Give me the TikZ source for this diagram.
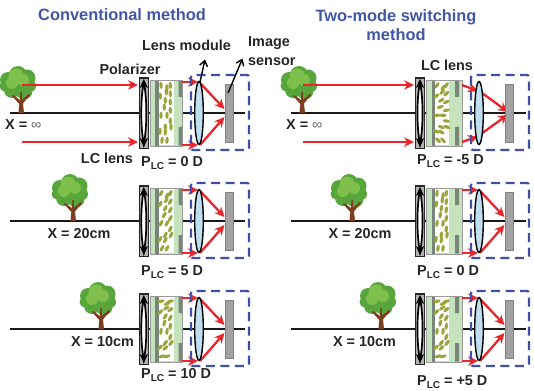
\documentclass[tikz,border=0pt]{standalone}
\usepackage{fontspec}
\setmainfont{Liberation Sans}
\usetikzlibrary{arrows.meta}
\definecolor{titleblue}{HTML}{4456A6}
\definecolor{boxblue}{HTML}{3F50A2}
\definecolor{rayred}{HTML}{E9252B}
\definecolor{plategreen}{HTML}{C5E3BC}
\definecolor{darkplate}{HTML}{788578}
\definecolor{molecule}{HTML}{9AA63C}
\definecolor{lensblue}{HTML}{BFDFF1}
\definecolor{sensorgray}{HTML}{A3A3A3}
\definecolor{treelight}{HTML}{7FC04C}
\definecolor{treemid}{HTML}{57A53B}
\definecolor{trunk}{HTML}{7C3F22}
\tikzset{
  x=1pt,y=-1pt,
  titletext/.style={text=titleblue,font=\fontsize{16.4}{19.5}\selectfont\bfseries,align=center,inner sep=0pt},
  label/.style={text=black!85,font=\fontsize{14.4}{18.5}\selectfont\bfseries,align=left,inner sep=0pt},
  axis/.style={line width=2pt,black!90},
  ray/.style={line width=2.3pt,rayred,-{Stealth[length=10pt,width=9.5pt]}},
  pointer/.style={line width=1.4pt,black,-{Straight Barb[length=5.5pt,width=8pt]}},
  module box/.style={line width=2.2pt,boxblue,dash pattern=on 9pt off 5.5pt,rounded corners=2pt},
}
\newcommand{\plc}[1]{P\lower3pt\hbox{\fontsize{10}{10}\selectfont LC}\ = #1}

% Tree with its trunk foot at the given point
\newcommand{\tree}[2]{%
  \begin{scope}[shift={(#1,#2)}]
    \fill[treemid] (-3,-38) circle[radius=9] (-13,-33) circle[radius=8]
      (6,-35) circle[radius=8.5] (-16,-27) circle[radius=5.5] (9,-27) circle[radius=6]
      (-9,-23) circle[radius=8] (3,-22) circle[radius=8.5] (-3,-28) circle[radius=10];
    \fill[treelight] (-5,-37) circle[radius=7.5] (-9,-30) circle[radius=6] (2,-33) circle[radius=6];
    \fill[trunk] (-2.6,0) -- (-1.7,-9) -- (-9,-17) -- (-8,-18) -- (-1,-13) -- (-0.5,-21)
      -- (0.8,-21) -- (1,-13.5) -- (8,-19) -- (9,-18) -- (2,-9.5) -- (3,0) -- cycle;
  \end{scope}}

% Polarizer: frame, bowed element and double arrow tips
\newcommand{\polarizer}[2]{%
  \begin{scope}[shift={(#1,#2)}]
    \draw[line width=1.2pt,black!85,fill=black!30] (-4.6,-35) rectangle (4.6,35.5);
    \draw[line width=1.7pt,black,fill=white] (0,-31) .. controls (3.4,-14) and (3.4,14) .. (0,31)
      .. controls (-3.4,14) and (-3.4,-14) .. (0,-31);
    \fill[black] (0,-34) -- (4.2,-25) -- (0,-27.5) -- (-4.2,-25) -- cycle;
    \fill[black] (0,34) -- (4.2,25) -- (0,27.5) -- (-4.2,25) -- cycle;
  \end{scope}}

% Liquid-crystal cell: #1 row axis, #2..#7 plate edges, #8 end of cell, #9 molecule tilt
\newcommand{\lccell}[9]{%
  \fill[plategreen] (#2,#1-33) rectangle (#8,#1+33);
  \fill[white] (#4,#1-32) rectangle (#5,#1+32);
  \fill[darkplate] (#3,#1-32.5) rectangle (#4,#1+32.5);
  \fill[darkplate] (#6,#1-32.5) rectangle (#7,#1-16) (#6,#1+14) rectangle (#7,#1+32.5);
  \draw[line width=0.9pt,black!40] (#2,#1-33) rectangle (#8,#1+33);
  \pgfmathsetmacro{\cellmid}{(#4+#5)/2}
  \foreach \rx/\ry in {-5/-27.7,1/-25.3,4.3/-27.7,0.3/-21,4.3/-19.3,-5.7/-17,-0.7/-12.7,4.3/-11,
      -1.7/-6,4.3/-2.7,-5/2.3,1/2.3,4.3/8,-0.7/14,5/14,-6/18.3,-0.7/19,-4/27.3,1/27.3}{
    \pgfmathsetmacro{\ang}{#9}
    \fill[molecule,shift={(\cellmid+\rx,#1+\ry)},rotate=\ang] (0,0) ellipse[x radius=3.6pt,y radius=1.7pt];
  }}

% Lens module: axis ends, lens, image sensor and dashed housing
\newcommand{\axisline}[3]{\draw[axis] (#1,#3) -- (#2,#3);}
\newcommand{\lensmodule}[2]{%
  \begin{scope}[shift={(#1,#2)}]
    \fill[sensorgray] (26,-29) rectangle (34,29);
    \draw[line width=0.5pt,black!50] (26,-29) rectangle (34,29);
    \draw[line width=1.4pt,black,fill=lensblue] (0,0) ellipse[x radius=4.3pt,y radius=31.5pt];
    \draw[module box] (-8,-38) rectangle (50,37);
  \end{scope}}
% Rays between the cell and the sensor, focused behind the lens
\newcommand{\focusrays}[3]{%
  \draw[ray] (#1,#3-31) -- (#2-1,#3-31);
  \draw[ray] (#1,#3+32) -- (#2-1,#3+32);
  \draw[ray] (#2+1,#3-30) -- (#2+25.5,#3-4);
  \draw[ray] (#2+1,#3+32) -- (#2+25.5,#3+4);}

\begin{document}
\begin{tikzpicture}
\useasboundingbox (0,0) rectangle (534,390);
\fill[white] (0,0) rectangle (534,390);

% ---------- conventional method ----------
\axisline{10}{245}{113}\axisline{10}{245}{221}\axisline{10}{245}{329}
\tree{21}{113}\tree{73}{221}\tree{101}{329}
\foreach \row in {113,221,329}{\polarizer{143.8}{\row}}
\lccell{113}{150}{155}{158.5}{173.5}{178.5}{182}{182}{90-2*\ry/10}
\lccell{221}{150}{155}{158.5}{173.5}{178.5}{182}{182}{62}
\lccell{329}{150}{155}{158.5}{173.5}{178.5}{182}{182}{90-80*abs(\ry)/30}
\draw[ray] (22,85) -- (138,85);
\draw[ray] (22,142) -- (138,142);
\foreach \row in {113,221,329}{\focusrays{182}{199}{\row}\lensmodule{199}{\row}}

% ---------- two-mode switching method ----------
\axisline{291}{526}{113}\axisline{291}{526}{221}\axisline{291}{526}{329}
\tree{302}{113}\tree{352}{221}\tree{381}{329}
\foreach \row in {113,221,329}{\polarizer{420}{\row}}
\lccell{113}{426}{432}{435}{449}{455}{459}{462}{-1.9*\ry+5}
\lccell{221}{426}{432}{435}{449}{455}{459}{462}{82}
\lccell{329}{426}{432}{435}{449}{455}{459}{462}{90-80*abs(\ry)/30}
\draw[ray] (303,85) -- (414,85);
\draw[ray] (303,142) -- (414,142);
\draw[ray] (462,85) -- (478,91);
\draw[ray] (462,142) -- (478,136.5);
\draw[ray] (480,91.5) -- (508,112);
\draw[ray] (481,134) -- (508,114.5);
\lensmodule{479}{113}
\foreach \row in {221,329}{\focusrays{462}{479}{\row}\lensmodule{479}{\row}}

% ---------- headings and labels ----------
\node[titletext] (titleL) at (122,15) {Conventional method};
\node[titletext] (titleR) at (396,25) {Two-mode switching\\method};
\node[label] (lensmod) at (186.5,45.5) {Lens module};
\node[label,anchor=west] (sensor) at (248,51) {Image\\sensor};
\node[label] (polar) at (130,69) {Polarizer};
\node[label] (lcL) at (107,158.5) {LC lens};
\node[label] (lcR) at (447,65) {LC lens};
\node[label,anchor=west] (xa) at (5,125) {X = {\mdseries\color{black!60}∞}};
\node[label,anchor=west] (xb) at (286,125) {X = {\mdseries\color{black!60}∞}};
\node[label] (xc) at (79,233.5) {X = 20cm};
\node[label] (xd) at (102.5,342) {X = 10cm};
\node[label] (xe) at (360,233.5) {X = 20cm};
\node[label] (xf) at (364.5,342) {X = 10cm};
\node[label,anchor=west] (p1) at (141,163) {\plc{0 D}};
\node[label,anchor=west] (p2) at (141,272) {\plc{5 D}};
\node[label,anchor=west] (p3) at (141,375) {\plc{10 D}};
\node[label,anchor=west] (p4) at (417,161) {\plc{-5 D}};
\node[label,anchor=west] (p5) at (417,272) {\plc{0 D}};
\node[label,anchor=west] (p6) at (417,382) {\plc{+5 D}};

% Pointers from the lens and the sensor up towards their labels
\coordinate (lensfoot) at (200,82);
\coordinate (lenstip) at (205,59.5);
\coordinate (sensorfoot) at (228,93);
\coordinate (sensortip) at (242.5,58.5);
\draw[pointer] (lensfoot) -- (lenstip);
\draw[pointer] (sensorfoot) -- (sensortip);
\end{tikzpicture}
\end{document}
